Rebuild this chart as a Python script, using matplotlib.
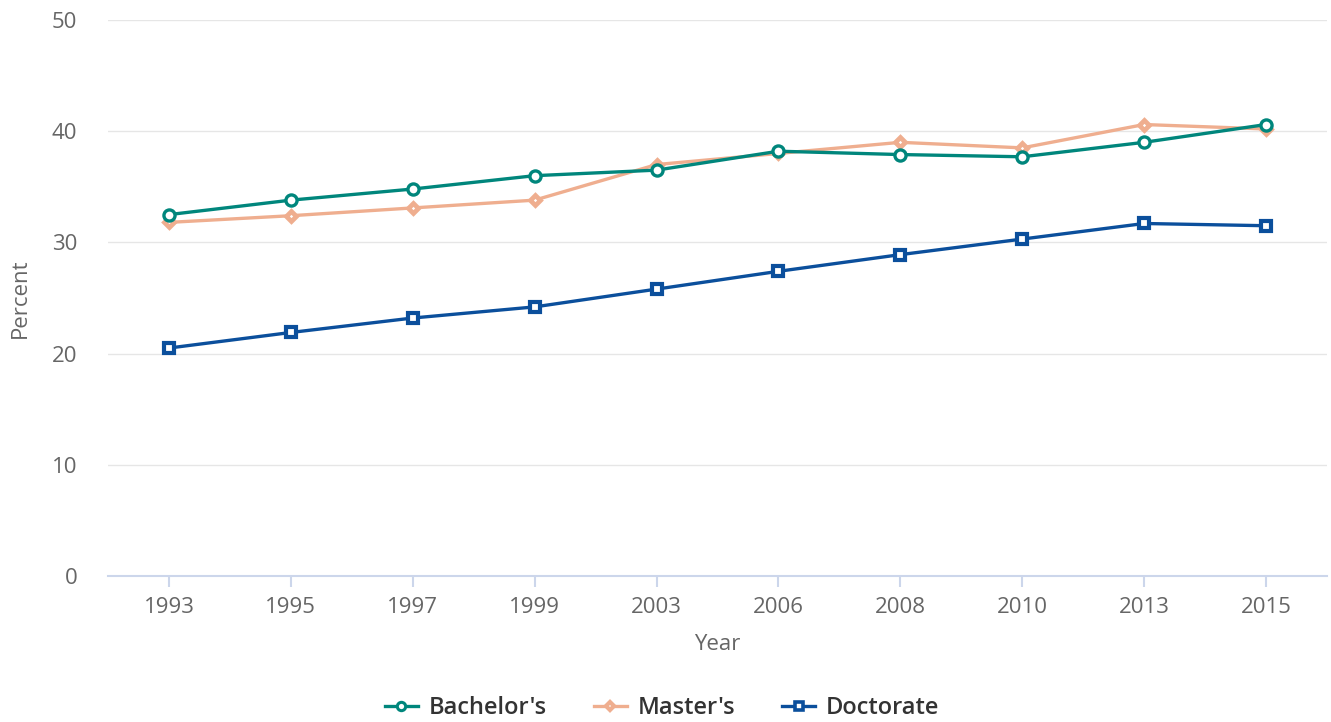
import matplotlib.pyplot as plt
from matplotlib.lines import Line2D

plt.rcParams['font.family'] = ['Open Sans', 'DejaVu Sans']

years = ['1993', '1995', '1997', '1999', '2003', '2006', '2008', '2010', '2013', '2015']
bachelors = [32.5, 33.8, 34.8, 36.0, 36.5, 38.2, 37.9, 37.7, 39.0, 40.6]
masters = [31.8, 32.4, 33.1, 33.8, 37.0, 38.0, 39.0, 38.5, 40.6, 40.2]
doctorate = [20.5, 21.9, 23.2, 24.2, 25.8, 27.4, 28.9, 30.3, 31.7, 31.5]

teal = '#00867c'
salmon = '#efae8f'
blue = '#0b4f9c'

fig = plt.figure(figsize=(13.31, 7.22), dpi=100)
ax = fig.add_axes([108/1331, 1-576/722, (1327-108)/1331, (576-20)/722])

x = list(range(len(years)))
ax.plot(x, bachelors, color=teal, lw=2.4, marker='o', ms=8, mfc='white', mec=teal, mew=2.4,
        label="Bachelor's", zorder=3)
ax.plot(x, masters, color=salmon, lw=2.4, marker='D', ms=5.5, mfc='white', mec=salmon, mew=3.4,
        label="Master's", zorder=2)
ax.plot(x, doctorate, color=blue, lw=2.4, marker='s', ms=7, mfc='white', mec=blue, mew=3.0,
        label='Doctorate', zorder=3)

ax.set_xlim(-0.5, len(years) - 0.5)
ax.set_ylim(0, 50)
ax.set_xticks(x)
ax.set_xticklabels(years)
ax.set_yticks([0, 10, 20, 30, 40, 50])

ax.grid(axis='y', color='#e6e6e6', lw=1)
ax.set_axisbelow(True)
for s in ['top', 'right', 'left']:
    ax.spines[s].set_visible(False)
ax.spines['bottom'].set_color('#ccd6eb')
ax.spines['bottom'].set_linewidth(1.5)
ax.spines['bottom'].set_zorder(1)

ax.tick_params(axis='x', length=8, width=1.5, color='#ccd6eb', labelsize=16,
               labelcolor='#666666', pad=7)
ax.tick_params(axis='y', length=0, labelsize=16, labelcolor='#666666', pad=22)

ax.set_xlabel('Year', fontsize=16, color='#666666', labelpad=12)
ax.set_ylabel('Percent', fontsize=16, color='#666666', labelpad=15)

handles = [
    Line2D([], [], color=teal, lw=2.4, marker='o', ms=6, mfc='white', mec=teal, mew=2.2),
    Line2D([], [], color=salmon, lw=2.4, marker='D', ms=4.5, mfc='white', mec=salmon, mew=3.0),
    Line2D([], [], color=blue, lw=2.4, marker='s', ms=5.5, mfc='white', mec=blue, mew=2.6),
]
leg = fig.legend(handles, ["Bachelor's", "Master's", 'Doctorate'], loc='center',
                 bbox_to_anchor=(662/1331, 1-708/722), ncol=3, frameon=False,
                 fontsize=17, handlelength=1.4, handletextpad=0.45, columnspacing=2.0)
for t in leg.get_texts():
    t.set_color('#333333')
    t.set_fontweight('semibold')

fig.savefig('out.png', dpi=100)
